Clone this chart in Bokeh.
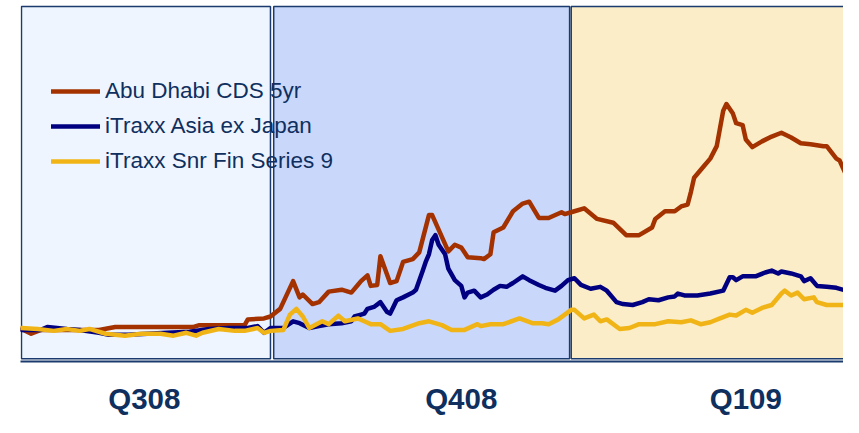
from bokeh.plotting import figure
from bokeh.models import Range1d, Legend, LegendItem, ColumnDataSource, FixedTicker
from bokeh.embed import file_html
from bokeh.resources import INLINE

# ---- data (days from start of series, rebased spread index) ----
quarters = ["Q308", "Q408", "Q109"]
quarter_start = [0, 78, 170]
quarter_end = [77, 169.5, 262]
quarter_label_pos = [38, 136, 224]
band_colors = ["#EEF5FE", "#C9D8FA", "#FAEDC7"]

ad_day = [0, 3, 6, 24, 29, 53, 55, 69, 70, 75, 77, 80, 84, 86, 87, 90, 92, 95, 99, 102,
          104, 105, 107, 108, 110, 111, 114, 116, 118, 121, 123, 126, 127, 132, 134, 136,
          138, 142, 143, 145, 146, 149, 152, 155, 157, 160, 163, 167, 168, 171, 174, 178,
          183, 187, 191, 195, 196, 199, 202, 204, 206, 207, 208, 211, 213, 215, 217, 218,
          220, 221, 223, 224, 226, 229, 232, 235, 238, 241, 244, 248, 249, 252, 253, 255]
ad_val = [102, 87, 99, 99, 108, 108, 114, 114, 132, 135, 141, 165, 252, 201, 210, 180, 186,
          219, 225, 216, 240, 252, 270, 237, 240, 330, 246, 252, 312, 321, 342, 459, 459,
          345, 366, 357, 327, 324, 321, 336, 405, 420, 471, 495, 501, 450, 450, 468, 462,
          471, 480, 447, 435, 396, 396, 420, 447, 471, 471, 486, 492, 531, 576, 612, 636,
          675, 786, 807, 777, 747, 741, 696, 672, 690, 705, 717, 702, 684, 681, 675, 675,
          636, 630, 585]

ax_day = [0, 6, 8, 11, 14, 18, 24, 27, 33, 39, 45, 52, 58, 64, 70, 73, 75, 77, 81, 84, 86,
          89, 92, 95, 99, 102, 103, 105, 106, 107, 109, 111, 113, 114, 115, 116, 118, 121,
          122, 124, 125, 126, 127, 128, 129, 131, 132, 134, 136, 137, 138, 140, 142, 144,
          146, 148, 150, 152, 155, 157, 160, 162, 165, 167, 169, 171, 173, 176, 179, 181,
          184, 186, 189, 192, 194, 197, 200, 202, 203, 205, 209, 213, 217, 219, 220, 221,
          223, 227, 230, 232, 234, 235, 238, 241, 242, 244, 246, 249, 252, 255]
ax_val = [99, 99, 108, 105, 102, 99, 90, 84, 84, 87, 90, 93, 102, 105, 105, 111, 90, 105,
          105, 126, 120, 105, 111, 117, 120, 126, 141, 147, 150, 165, 171, 186, 156, 150,
          171, 192, 201, 216, 225, 282, 312, 336, 381, 396, 366, 336, 291, 255, 237, 201,
          216, 222, 201, 210, 225, 237, 234, 246, 267, 255, 240, 231, 222, 237, 255, 261,
          240, 228, 234, 222, 186, 180, 177, 186, 195, 192, 201, 204, 213, 207, 207, 213,
          222, 264, 264, 255, 267, 267, 279, 285, 276, 282, 276, 267, 252, 261, 237, 234,
          231, 222]

sf_day = [0, 5, 10, 14, 18, 21, 26, 32, 37, 43, 47, 51, 54, 56, 61, 66, 69, 73, 75, 77, 81,
          83, 85, 87, 89, 93, 95, 98, 100, 104, 106, 108, 111, 114, 118, 123, 126, 130, 133,
          137, 141, 142, 145, 149, 154, 158, 161, 163, 166, 170, 171, 174, 177, 179, 181,
          185, 188, 191, 196, 200, 204, 207, 210, 213, 216, 219, 221, 224, 226, 229, 232,
          235, 236, 238, 240, 242, 245, 246, 249, 255]
sf_val = [105, 102, 96, 102, 96, 102, 87, 81, 87, 87, 81, 90, 81, 90, 102, 96, 96, 105, 90,
          96, 99, 147, 165, 141, 105, 126, 117, 144, 126, 135, 126, 117, 117, 96, 102, 120,
          126, 114, 99, 99, 117, 111, 117, 117, 135, 120, 120, 117, 132, 162, 162, 135, 147,
          126, 132, 102, 105, 117, 117, 126, 123, 129, 117, 123, 135, 147, 144, 162, 153,
          168, 177, 213, 222, 207, 216, 195, 201, 186, 177, 177]

series_names = ["Abu Dhabi CDS 5yr", "iTraxx Asia ex Japan", "iTraxx Snr Fin Series 9"]

# ---- styling ----
NAVY = "#1B3A6D"
TEXT = "#0F2F5F"
LINE_COLORS = ["#A33200", "#000080", "#F0B416"]
FONT = "Liberation Sans"

p = figure(width=843, height=417, output_backend="svg", toolbar_location=None,
           x_range=Range1d(-0.3, 254.2), y_range=Range1d(0, 1119),
           y_axis_location=None, min_border_left=20, min_border_right=0,
           min_border_top=4, min_border_bottom=54)
p.background_fill_color = "white"
p.border_fill_color = "white"
p.outline_line_color = None
p.grid.visible = False

xa = p.xaxis[0]
xa.ticker = FixedTicker(ticks=quarter_label_pos)
xa.major_label_overrides = {pos: q for pos, q in zip(quarter_label_pos, quarters)}
xa.major_label_text_font = FONT
xa.major_label_text_font_style = "bold"
xa.major_label_text_font_size = "29.5px"
xa.major_label_text_color = TEXT
xa.major_label_standoff = 20
xa.major_tick_line_color = None
xa.major_tick_in = 0
xa.major_tick_out = 0
xa.minor_tick_line_color = None
xa.axis_line_color = NAVY
xa.axis_line_width = 2

band_src = ColumnDataSource(dict(left=quarter_start, right=quarter_end,
                                 bottom=[9] * 3, top=[1113] * 3, color=band_colors))
p.quad(left="left", right="right", bottom="bottom", top="top", source=band_src,
       fill_color="color", line_color=NAVY, line_width=1.5)

renderers = []
for xs, ys, c in [(ad_day, ad_val, LINE_COLORS[0]),
                  (ax_day, ax_val, LINE_COLORS[1]),
                  (sf_day, sf_val, LINE_COLORS[2])]:
    r = p.line(xs, ys, line_color=c, line_width=4.5, line_join="round", line_cap="round")
    renderers.append(r)

legend = Legend(items=[LegendItem(label=n, renderers=[r]) for n, r in zip(series_names, renderers)],
                location=(31, 185), padding=0, margin=0, spacing=5,
                glyph_width=49, glyph_height=30, label_height=30, label_standoff=5,
                label_text_font=FONT, label_text_font_size="22.5px", label_text_color=TEXT,
                background_fill_alpha=0, border_line_alpha=0)
p.add_layout(legend)

open("out.html", "w").write(file_html(p, INLINE))
